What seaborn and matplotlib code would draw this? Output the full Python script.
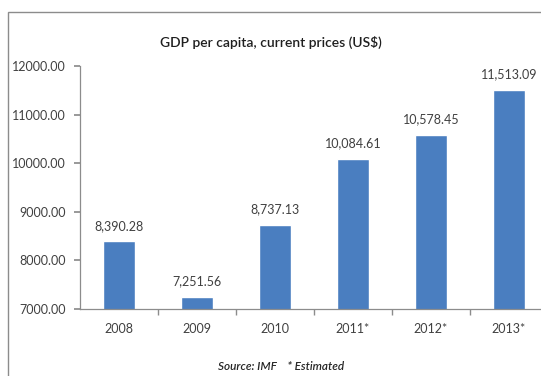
import matplotlib
matplotlib.use("Agg")
import matplotlib.pyplot as plt
from matplotlib.patches import Rectangle
import seaborn as sns
import pandas as pd

years = ["2008", "2009", "2010", "2011*", "2012*", "2013*"]
gdp_per_capita = [8390.28, 7251.56, 8737.13, 10084.61, 10578.45, 11513.09]
y_ticks = [7000, 8000, 9000, 10000, 11000, 12000]

sns.set_theme(style="white")
plt.rcParams["font.family"] = ["Lato", "DejaVu Sans"]

df = pd.DataFrame({"year": years, "value": gdp_per_capita})

fig = plt.figure(figsize=(5.41, 3.76), dpi=100)
ax = fig.add_axes([80 / 541, 67 / 376, 468 / 541, 243 / 376])

# outer frame of the chart area
fig.patches.append(Rectangle((8 / 541, -0.1), 1.2, 1.1 - 12 / 376,
                             transform=fig.transFigure, fill=False,
                             edgecolor="#8c8c8c", linewidth=1.0))

sns.barplot(data=df, x="year", y="value", color="#4A7EC0", width=0.4,
            saturation=1, ax=ax)

ax.set_ylim(7000, 12000)
ax.set_xlim(-0.5, 5.5)
ax.set_yticks(y_ticks)
ax.set_yticklabels([f"{t:.2f}" for t in y_ticks], fontsize=9, color="#404040")
ax.set_xlabel("")
ax.set_ylabel("")

# tick marks between the categories on the x axis
ax.set_xticks(range(len(years)))
ax.set_xticklabels(years, fontsize=9, color="#404040")
ax.tick_params(axis="x", length=0, pad=10)
ax.set_xticks([i + 0.5 for i in range(len(years) - 1)], minor=True)
ax.tick_params(axis="x", which="minor", length=4, color="#8c8c8c", direction="out", bottom=True)
ax.tick_params(axis="y", length=4, color="#8c8c8c", direction="out", left=True, pad=6)

for side in ["top", "right"]:
    ax.spines[side].set_visible(False)
for side in ["left", "bottom"]:
    ax.spines[side].set_color("#8c8c8c")
    ax.spines[side].set_linewidth(0.9)

for i, v in enumerate(gdp_per_capita):
    ax.annotate(f"{v:,.2f}", (i, v), xytext=(0, 7), textcoords="offset points",
                ha="center", va="bottom", fontsize=9, color="#404040")

fig.text(0.5, 1 - 42 / 376, "GDP per capita, current prices (US$)", ha="center",
         va="center", fontsize=10, color="#1f1f1f", fontweight="semibold")
fig.text(0.52, 1 - 367 / 376, "Source: IMF    * Estimated", ha="center",
         va="center", fontsize=8.5, style="italic", color="#262626",
         fontweight="semibold")

fig.savefig("out.png", dpi=100)
